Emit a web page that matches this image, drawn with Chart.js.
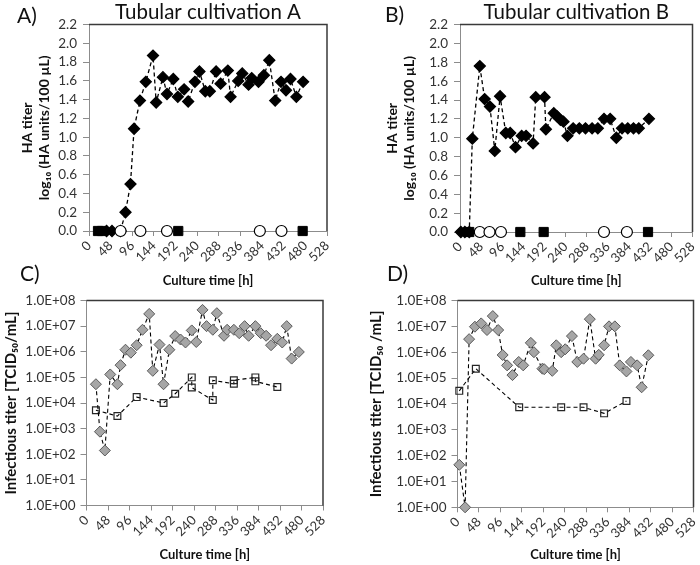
<!DOCTYPE html>
<html>
<head>
<meta charset="utf-8">
<script src="https://cdn.jsdelivr.net/npm/chart.js@4.4.0/dist/chart.umd.min.js"></script>
<style>
body{margin:0;background:#fff;}
#wrap{position:relative;width:700px;height:565px;overflow:hidden;font-family:Lato,sans-serif;}
canvas{position:absolute;}
.lbl{position:absolute;font-size:21px;line-height:1;color:#111;}
</style>
</head>
<body>
<div id="wrap">
<canvas id="chartA" width="340" height="289" style="left:0;top:0"></canvas>
<canvas id="chartB" width="335" height="289" style="left:365px;top:0"></canvas>
<canvas id="chartC" width="340" height="275" style="left:0;top:290px"></canvas>
<canvas id="chartD" width="335" height="275" style="left:365px;top:290px"></canvas>
<div class="lbl" style="left:17px;top:4px">A)</div>
<div class="lbl" style="left:385px;top:3px">B)</div>
<div class="lbl" style="left:20px;top:262px">C)</div>
<div class="lbl" style="left:387px;top:262px">D)</div>
</div>
<script>
// tick labels
var timeTicks=[0,48,96,144,192,240,288,336,384,432,480,528];
var haTicks=[0,0.2,0.4,0.6,0.8,1.0,1.2,1.4,1.6,1.8,2.0,2.2];
var logTicks=[1,1e1,1e2,1e3,1e4,1e5,1e6,1e7,1e8];

// A) HA titer, tubular cultivation A
var hoursHA_A=[39,51,70,81,92,100,113,126,142,149,164,173,187,197,211,220,235,245,258,268,282,292,308,314,331,340,354,361,376,388,400,413,426,437,447,460,475];
var valuesHA_A=[0,0,0,0.2,0.5,1.09,1.39,1.59,1.87,1.37,1.64,1.46,1.62,1.43,1.51,1.38,1.59,1.70,1.49,1.49,1.70,1.57,1.71,1.43,1.60,1.68,1.56,1.63,1.59,1.66,1.82,1.39,1.59,1.50,1.62,1.43,1.59];
var squareHoursA=[20,29,198,474];
var circleHoursA=[70,114,173,379,427];

// B) HA titer, tubular cultivation B
var hoursHA_B=[2,11,21,28,45,56,68,79,91,104,114,126,140,150,166,172,192,195,213,220,228,235,244,257,271,285,300,313,327,341,355,368,381,394,406,429];
var valuesHA_B=[0,0,0,0.99,1.76,1.41,1.33,0.86,1.44,1.05,1.05,0.90,1.02,1.02,0.94,1.43,1.43,1.09,1.26,1.23,1.19,1.17,1.02,1.10,1.10,1.10,1.10,1.10,1.20,1.20,1.00,1.10,1.10,1.10,1.10,1.20];
var squareHoursB=[21,137,190,427];
var circleHoursB=[45,67,93,327,379];

// C) infectious titer, cultivation A
var hoursInfC=[21,30,41,53,69,76,87,99,112,125,140,148,163,172,185,198,210,221,235,245,259,268,282,291,307,314,329,341,353,362,377,389,401,412,426,437,447,458,474];
var valuesInfC=[5.4e4,7.6e2,1.4e2,1.3e5,5.4e4,3.0e5,1.2e6,9.2e5,1.8e6,7.2e6,3.0e7,1.8e5,1.9e6,5.4e4,1.2e6,4.1e6,3.0e6,2.3e6,6.8e6,2.4e6,4.3e7,1.0e7,7.2e6,3.2e7,4.2e6,7.2e6,7.2e6,5.3e6,1.0e7,4.2e6,1.0e7,5.3e6,4.2e6,1.8e6,3.2e6,2.3e6,1.0e7,5.4e5,9.8e5];
var hoursSqC=[21,69,112,172,198,235,235,282,282,329,329,377,377,426];
var valuesSqC=[5.2e3,3.1e3,1.7e4,1.0e4,2.3e4,1.0e5,4.0e4,1.3e4,7.7e4,5.6e4,7.7e4,1.0e5,7.0e4,4.2e4];

// D) infectious titer, cultivation B
var hoursInfD=[4,17,26,39,53,66,79,91,101,111,123,137,147,164,171,190,194,212,221,232,241,256,268,282,296,309,316,328,339,352,363,378,388,402,412,427];
var valuesInfD=[44,1,3.2e6,9.7e6,1.3e7,7.2e6,2.5e7,7.2e6,7.8e5,3.1e5,1.3e5,4.2e5,3.1e5,2.3e6,1.0e6,2.3e5,2.2e5,1.9e5,1.85e6,1.0e6,1.3e6,4.2e6,4.2e5,5.6e5,1.9e7,5.6e5,7.9e5,1.85e6,1.0e7,1.0e7,3.1e5,1.8e5,4.2e5,3.1e5,4.4e4,7.6e5];
var hoursSqD=[4,41,138,232,282,328,378];
var valuesSqD=[3.2e4,2.3e5,7.4e3,7.4e3,7.4e3,4.3e3,1.3e4];

function pts(xs,ys){return xs.map(function(x,i){return {x:x,y:ys?ys[i]:0};});}

function fmtE(v){
  var e=Math.round(Math.log10(v));
  return '1.0E+'+(e<10?'0':'')+e;
}

// dark border on top and right of the plot
var frame={
  id:'frame',
  beforeDatasetsDraw:function(chart){
    var a=chart.chartArea,ctx=chart.ctx;
    ctx.save();
    ctx.strokeStyle='#3a3a3a';
    ctx.lineWidth=1.5;
    ctx.beginPath();
    ctx.moveTo(a.left,a.top);
    ctx.lineTo(a.right,a.top);
    ctx.lineTo(a.right,a.bottom);
    ctx.stroke();
    ctx.restore();
  }
};

function haSets(hours,vals,sq,circ){
  return [
    {data:pts(circ),pointStyle:'circle',pointRadius:5.5,pointBackgroundColor:'#fff',pointBorderColor:'#000',pointBorderWidth:1.2,showLine:false,clip:false},
    {data:pts(sq),pointStyle:'rect',pointRadius:6.5,pointBackgroundColor:'#000',pointBorderColor:'#000',showLine:false,clip:false},
    {data:pts(hours,vals),pointStyle:'rectRot',pointRadius:5.5,pointBackgroundColor:'#000',pointBorderColor:'#000',
     showLine:true,borderColor:'#000',borderWidth:1.3,borderDash:[4,3],clip:false}
  ];
}

function infSets(h1,v1,h2,v2){
  return [
    {data:pts(h1,v1),pointStyle:'rectRot',pointRadius:5.5,pointBackgroundColor:'#a6a6a6',pointBorderColor:'#595959',pointBorderWidth:1,
     showLine:true,borderColor:'#000',borderWidth:1.1,borderDash:[4,3],clip:false},
    {data:pts(h2,v2),pointStyle:'rect',pointRadius:4.8,pointBackgroundColor:'rgba(0,0,0,0)',pointBorderColor:'#262626',pointBorderWidth:1.2,
     showLine:true,borderColor:'#000',borderWidth:1.1,borderDash:[4,3],clip:false}
  ];
}

function panel(id,o){
  var yScale;
  if(o.log){
    yScale={type:'logarithmic',min:1,max:1e8,
      afterBuildTicks:function(s){s.ticks=logTicks.map(function(v){return {value:v};});},
      ticks:{autoSkip:false,callback:fmtE,color:'#333',font:{size:13.5},padding:5},
      title:{display:true,text:o.ytitle,color:'#111',font:{size:15,weight:'bold'},padding:{top:o.ytp,bottom:0}}};
  } else {
    yScale={type:'linear',min:0,max:2.2,
      afterBuildTicks:function(s){s.ticks=haTicks.map(function(v){return {value:v};});},
      ticks:{autoSkip:false,callback:function(v){return v.toFixed(1);},color:'#333',font:{size:13.5},padding:6},
      title:{display:true,text:['HA titer','log\u2081\u2080 (HA units/100 \u00b5L)'],color:'#111',font:{size:14,weight:'bold'},padding:{top:o.ytp,bottom:0}}};
  }
  yScale.afterFit=function(s){s.width=o.yw;s.paddingTop=0;s.paddingBottom=0;};
  yScale.grid={drawOnChartArea:false,tickLength:6,color:'#8c8c8c'};
  yScale.border={color:'#8c8c8c'};

  new Chart(document.getElementById(id),{
    type:'scatter',
    data:{datasets:o.datasets},
    options:{
      responsive:false,
      animation:false,
      layout:{padding:o.pad},
      plugins:{
        legend:{display:false},
        tooltip:{enabled:false},
        title:{display:!!o.title,text:o.title,fullSize:false,padding:{top:0,bottom:0},color:'#111',font:{size:20.5,weight:'normal'}}
      },
      scales:{
        x:{type:'linear',min:0,max:528,
          afterBuildTicks:function(s){s.ticks=timeTicks.map(function(v){return {value:v};});},
          afterFit:function(s){s.height=o.xh;s.paddingLeft=0;s.paddingRight=0;},
          ticks:{autoSkip:false,minRotation:45,maxRotation:45,color:'#333',font:{size:13},padding:2},
          grid:{drawOnChartArea:false,tickLength:5,color:'#8c8c8c'},
          border:{color:'#8c8c8c'},
          title:{display:true,text:'Culture time [h]',color:'#111',font:{size:13,weight:'bold'},padding:{top:0,bottom:o.xtb}}
        },
        y:yScale
      }
    },
    plugins:[frame]
  });
}

Chart.defaults.font.family='Lato, sans-serif';

panel('chartA',{title:'Tubular cultivation A',datasets:haSets(hoursHA_A,valuesHA_A,squareHoursA,circleHoursA),
  yw:89,xh:58,ytp:19,xtb:0,pad:{top:0,right:13,bottom:0,left:0}});
panel('chartB',{title:'Tubular cultivation B',datasets:haSets(hoursHA_B,valuesHA_B,squareHoursB,circleHoursB),
  yw:95,xh:57,ytp:19,xtb:0,pad:{top:0,right:3,bottom:0,left:0}});
panel('chartC',{log:true,ytitle:'Infectious titer [TCID\u2085\u2080/mL]',datasets:infSets(hoursInfC,valuesInfC,hoursSqC,valuesSqC),
  yw:86.5,xh:59.5,ytp:2,xtb:2,pad:{top:10.5,right:17,bottom:0,left:0}});
panel('chartD',{log:true,ytitle:'Infectious titer [TCID\u2085\u2080 /mL]',datasets:infSets(hoursInfD,valuesInfD,hoursSqD,valuesSqD),
  yw:92.5,xh:57.7,ytp:2,xtb:2,pad:{top:10.5,right:3.5,bottom:0,left:0}});
</script>
</body>
</html>
